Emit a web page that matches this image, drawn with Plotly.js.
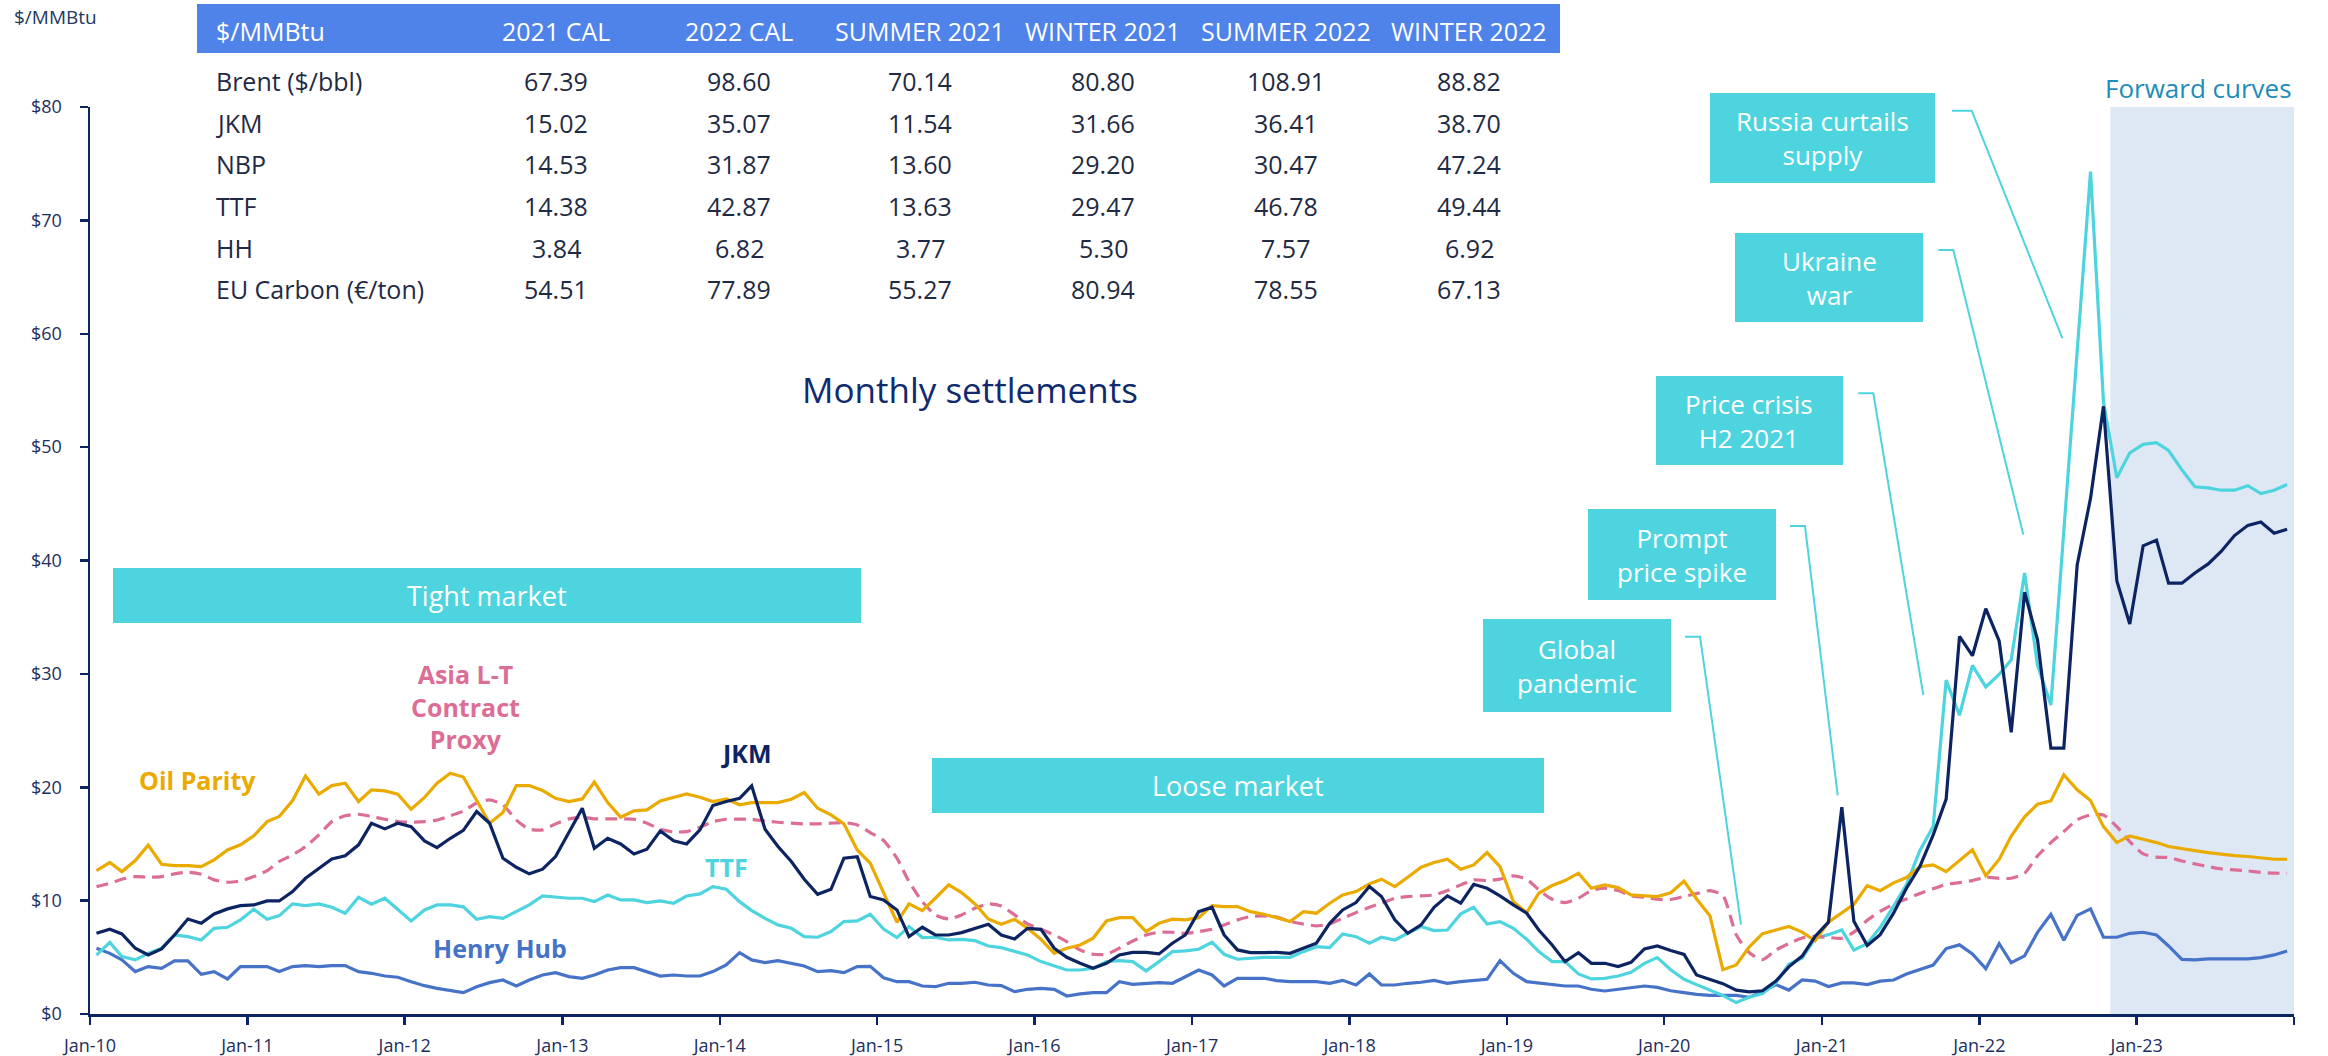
<!DOCTYPE html>
<html>
<head>
<meta charset="utf-8">
<script src="https://cdn.plot.ly/plotly-3.0.1.min.js"></script>
<style>
html,body{margin:0;padding:0;background:#ffffff;}
#chart{width:2328px;height:1056px;}
</style>
</head>
<body>
<div id="chart"></div>
<script>
// ---------------- DATA (monthly, Jan-10 ... Dec-23) ----------------
const firstYear = 2010;

const oilParity = [
12.65,13.36,12.56,13.53,14.89,13.21,13.09,13.09,13.00,13.60,14.47,14.92,
15.71,16.97,17.42,18.83,21.00,19.39,20.15,20.36,18.74,19.77,19.68,19.39,
18.06,19.10,20.36,21.24,20.90,18.90,16.83,17.77,20.15,20.15,19.71,19.03,
18.74,18.97,20.45,18.65,17.36,17.92,18.00,18.80,19.12,19.42,19.12,18.74,
18.97,18.45,18.65,18.65,18.65,18.94,19.54,18.15,17.56,16.77,14.47,13.30,
10.65,8.09,9.71,9.12,10.21,11.39,10.71,9.71,8.38,7.91,8.36,7.56,
6.59,5.35,5.80,6.09,6.68,8.21,8.50,8.50,7.27,8.00,8.36,8.30,
8.50,9.56,9.47,9.47,9.03,8.80,8.50,8.15,9.03,8.89,9.77,10.50,
10.80,11.47,11.89,11.24,12.06,12.94,13.36,13.65,12.77,13.15,14.24,13.00,
9.91,8.94,10.65,11.33,11.77,12.42,11.09,11.39,11.15,10.50,10.42,10.36,
10.70,11.73,10.15,8.67,3.91,4.32,5.90,7.09,7.41,7.72,7.22,6.46,
8.10,8.89,9.68,11.32,10.88,11.57,12.04,12.99,13.15,12.55,13.50,14.48,
12.20,13.63,15.70,17.40,18.50,18.80,21.10,19.77,18.83,16.53,15.12,15.71,
15.41,15.12,14.77,14.56,14.41,14.24,14.09,13.97,13.89,13.74,13.65,13.65
];

const asiaLTProxy = [
11.24,11.53,11.89,12.12,12.06,12.12,12.36,12.50,12.33,11.83,11.62,11.74,
12.12,12.65,13.45,14.03,14.77,15.80,16.97,17.48,17.62,17.42,17.18,16.97,
16.91,16.97,17.10,17.48,17.90,18.62,18.89,18.45,17.10,16.30,16.24,16.77,
17.21,17.36,17.21,17.21,17.21,17.18,16.83,16.30,16.06,16.09,16.48,16.97,
17.18,17.18,17.18,17.03,16.91,16.83,16.77,16.77,16.83,16.88,16.68,16.00,
15.30,13.74,11.68,9.91,8.74,8.38,8.74,9.33,9.71,9.53,8.74,7.94,
7.47,6.97,6.38,5.65,5.27,5.27,5.80,6.44,6.97,7.21,7.21,7.12,
7.27,7.47,7.86,8.30,8.59,8.65,8.55,8.15,7.94,7.77,7.94,8.44,
8.94,9.41,9.77,10.21,10.36,10.42,10.50,10.89,11.39,11.83,11.77,11.89,
12.18,11.89,10.95,10.12,9.83,10.21,10.89,11.09,10.89,10.42,10.30,10.12,
10.10,10.37,10.62,10.88,10.47,7.00,5.42,4.79,5.64,6.21,6.71,6.84,
6.75,6.68,7.22,8.26,9.05,9.68,10.15,10.62,11.05,11.43,11.59,11.77,
12.06,11.97,11.97,12.42,13.95,15.12,16.09,17.12,17.56,17.56,16.53,15.21,
14.12,13.83,13.80,13.50,13.24,13.00,12.80,12.71,12.62,12.50,12.42,12.42
];

const jkm = [
7.12,7.47,7.06,5.80,5.21,5.74,6.97,8.38,8.00,8.83,9.27,9.56,
9.62,9.97,9.97,10.80,11.97,12.86,13.68,13.95,14.92,16.83,16.33,16.83,
16.53,15.27,14.68,15.50,16.20,17.86,16.83,13.74,12.94,12.36,12.77,13.88,
15.95,18.15,14.62,15.50,15.00,14.12,14.53,16.15,15.27,15.00,16.24,18.39,
18.74,19.03,20.12,16.30,14.77,13.45,11.89,10.56,11.00,13.74,13.88,10.36,
10.06,9.18,6.82,7.65,6.97,6.97,7.18,7.56,7.91,6.97,6.62,7.56,
7.47,5.80,5.00,4.47,4.03,4.47,5.21,5.44,5.44,5.30,6.24,6.97,
9.03,9.41,6.97,5.65,5.41,5.41,5.44,5.35,5.80,6.24,8.00,9.18,
9.83,11.24,10.36,8.30,7.12,7.86,9.41,10.42,9.77,11.44,11.09,10.42,
9.62,8.89,7.41,6.09,4.62,5.41,4.47,4.47,4.18,4.56,5.74,6.00,
5.60,5.26,3.44,3.06,2.68,2.11,1.95,2.05,2.90,4.16,5.11,6.84,
8.10,18.25,8.17,6.05,7.00,8.89,11.10,13.00,15.80,18.95,33.30,31.60,
35.75,32.90,24.85,37.20,33.00,23.45,23.45,39.60,45.50,53.60,38.20,34.40,
41.30,41.80,38.00,38.00,38.90,39.70,40.80,42.20,43.10,43.40,42.40,42.75
];

const ttf = [
5.20,6.32,5.06,4.77,5.35,5.80,6.97,6.82,6.53,7.56,7.65,8.30,
9.24,8.36,8.68,9.71,9.56,9.71,9.41,8.89,10.30,9.68,10.21,9.18,
8.21,9.18,9.62,9.62,9.45,8.36,8.59,8.44,9.03,9.62,10.41,10.30,
10.21,10.21,9.91,10.50,10.06,10.06,9.83,9.97,9.77,10.41,10.59,11.24,
11.00,9.91,9.12,8.44,7.86,7.56,6.82,6.77,7.27,8.15,8.21,8.80,
7.50,6.74,7.71,6.74,6.77,6.53,6.59,6.47,6.00,5.85,5.56,5.21,
4.62,4.26,3.88,3.88,4.03,4.62,4.71,4.62,3.80,4.62,5.50,5.56,
5.71,6.33,5.27,4.83,4.91,5.00,5.00,5.00,5.50,5.94,5.85,7.06,
6.82,6.24,6.77,6.53,7.12,7.71,7.36,7.41,8.83,9.41,7.94,8.15,
7.56,6.59,5.50,4.62,4.62,3.53,3.09,3.15,3.35,3.68,4.47,4.97,
3.90,3.06,2.59,2.11,1.64,1.01,1.48,1.80,2.74,4.38,4.95,6.68,
7.00,7.41,5.64,6.21,7.63,9.52,11.41,14.41,16.55,29.45,26.35,30.75,
28.85,29.95,31.25,38.90,30.75,27.25,42.50,58.30,74.30,54.00,47.30,49.50,
50.25,50.40,49.70,48.00,46.50,46.40,46.20,46.20,46.60,45.90,46.20,46.70
];

const henryHub = [
5.80,5.35,4.77,3.74,4.18,4.03,4.68,4.68,3.50,3.74,3.09,4.18,
4.18,4.18,3.74,4.18,4.27,4.18,4.27,4.27,3.74,3.59,3.35,3.24,
2.85,2.50,2.26,2.03,1.88,2.41,2.77,3.00,2.47,3.00,3.44,3.65,
3.30,3.15,3.44,3.88,4.09,4.09,3.74,3.35,3.44,3.35,3.35,3.74,
4.32,5.41,4.77,4.53,4.71,4.47,4.24,3.74,3.82,3.65,4.18,4.20,
3.20,2.85,2.85,2.47,2.41,2.71,2.71,2.80,2.56,2.50,1.97,2.18,
2.26,2.18,1.59,1.77,1.88,1.88,2.85,2.62,2.71,2.77,2.71,3.30,
3.88,3.44,2.47,3.15,3.15,3.15,2.95,2.85,2.85,2.85,2.71,2.97,
2.56,3.53,2.56,2.56,2.71,2.80,2.97,2.71,2.85,2.97,3.06,4.71,
3.59,2.85,2.71,2.56,2.47,2.47,2.18,2.03,2.18,2.35,2.47,2.35,
2.05,1.89,1.73,1.64,1.64,1.64,1.48,1.95,2.59,2.11,3.00,2.90,
2.43,2.74,2.74,2.59,2.90,3.00,3.53,3.94,4.32,5.77,6.10,5.30,
4.00,6.20,4.52,5.13,7.20,8.80,6.50,8.70,9.27,6.77,6.77,7.12,
7.21,6.97,6.00,4.82,4.77,4.86,4.86,4.86,4.86,4.97,5.21,5.56
];

const xTickYears = [2010,2011,2012,2013,2014,2015,2016,2017,2018,2019,2020,2021,2022,2023,2024];
const xTickLabels = ['Jan-10','Jan-11','Jan-12','Jan-13','Jan-14','Jan-15','Jan-16','Jan-17','Jan-18','Jan-19','Jan-20','Jan-21','Jan-22','Jan-23',''];

const forwardStart = '2022-11-01';
const forwardEnd = '2024-01-01';

const tableHeader = ['2021 CAL','2022 CAL','SUMMER 2021','WINTER 2021','SUMMER 2022','WINTER 2022'];
const tableCorner = '$/MMBtu';
const tableRowLabels = ['Brent ($/bbl)','JKM','NBP','TTF','HH','EU Carbon (€/ton)'];
const tableValues = [
  [67.39, 98.60, 70.14, 80.80, 108.91, 88.82],
  [15.02, 35.07, 11.54, 31.66, 36.41, 38.70],
  [14.53, 31.87, 13.60, 29.20, 30.47, 47.24],
  [14.38, 42.87, 13.63, 29.47, 46.78, 49.44],
  [3.84, 6.82, 3.77, 5.30, 7.57, 6.92],
  [54.51, 77.89, 55.27, 80.94, 78.55, 67.13]
];

const eventLabels = ['Russia curtails<br>supply','Ukraine<br>war','Price crisis<br>H2 2021','Prompt<br>price spike','Global<br>pandemic'];
const marketLabels = ['Tight market','Loose market'];

// ---------------- LAYOUT HELPERS ----------------
const W = 2328, H = 1056;
const PL = 90, PR = 2294, PT = 107, PB = 1014;
const px = x => (x - PL) / (PR - PL);
const py = y => (PB - y) / (PB - PT);

// month dates (mid-month positions)
const dates = [];
for (let i = 0; i < oilParity.length; i++) {
  const y = firstYear + Math.floor(i / 12);
  const m = (i % 12) + 1;
  dates.push(y + '-' + String(m).padStart(2, '0') + '-16');
}

const FONT = '"Open Sans", "Noto Sans", sans-serif';
const C = {
  oil: '#EAAA00', pink: '#DC6E96', jkm: '#0D2463', ttf: '#4DD4DF', hh: '#4673C8',
  box: '#4DD4DF', header: '#4F83E9', shade: '#DEE8F5', axis: '#0D2463', text: '#1F2A44'
};

const traces = [
  {x: dates, y: henryHub, name: 'Henry Hub', mode: 'lines', line: {color: C.hh, width: 3.2}},
  {x: dates, y: ttf, name: 'TTF', mode: 'lines', line: {color: C.ttf, width: 3.2}},
  {x: dates, y: asiaLTProxy, name: 'Asia L-T Contract Proxy', mode: 'lines',
   line: {color: C.pink, width: 3.2, dash: '12px,7px', shape: 'spline', smoothing: 0.6}},
  {x: dates, y: oilParity, name: 'Oil Parity', mode: 'lines', line: {color: C.oil, width: 3.2}},
  {x: dates, y: jkm, name: 'JKM', mode: 'lines', line: {color: C.jkm, width: 3.2}}
];

const shapes = [];
const annotations = [];

// forward curve shading
shapes.push({type: 'rect', xref: 'x', yref: 'paper', x0: forwardStart, x1: forwardEnd, y0: 0, y1: 1,
  fillcolor: C.shade, line: {width: 0}, layer: 'below'});

function rectPx(x0, y0, x1, y1, color) {
  shapes.push({type: 'rect', xref: 'paper', yref: 'paper', x0: px(x0), x1: px(x1), y0: py(y1), y1: py(y0),
    fillcolor: color, line: {width: 0}, layer: 'above'});
}
function textPx(x, y, text, opts) {
  opts = opts || {};
  annotations.push({xref: 'paper', yref: 'paper', x: px(x), y: py(y), text: text, showarrow: false,
    xanchor: opts.xanchor || 'center', yanchor: 'middle', align: opts.align || 'center',
    font: {family: FONT, size: opts.size || 25, color: opts.color || C.text, weight: opts.weight || 'normal'}});
}
function leader(pts) {
  let d = '';
  pts.forEach((p, i) => { d += (i ? ' L ' : 'M ') + px(p[0]) + ',' + py(p[1]); });
  shapes.push({type: 'path', xref: 'paper', yref: 'paper', path: d, line: {color: C.box, width: 2}, layer: 'above'});
}

// ---------- table ----------
rectPx(197, 4, 1560, 53, C.header);
const colX = [556, 739, 920, 1103, 1286, 1469];
const rowY = [81, 122.5, 164, 206, 247.5, 289];
textPx(214, 31, tableCorner, {xanchor: 'left', color: '#ffffff', size: 25});
tableHeader.forEach((h, j) => textPx(colX[j], 31, h, {color: '#ffffff', size: 25}));
tableRowLabels.forEach((r, i) => {
  textPx(214, rowY[i], r, {xanchor: 'left', size: 25});
  tableValues[i].forEach((v, j) => textPx(colX[j], rowY[i], v.toFixed(2), {size: 25}));
});

// top-left unit label
textPx(12, 17.5, '$/MMBtu', {xanchor: 'left', size: 19, color: '#23395F'});

// Monthly settlements
textPx(970, 389, 'Monthly settlements', {size: 35, color: '#0F2B6E'});

// Forward curves
textPx(2294, 88, 'Forward curves', {xanchor: 'right', size: 26, color: '#1E8CBA'});

// market boxes
rectPx(113, 568, 861, 623, C.box);
textPx(487, 595.5, marketLabels[0], {size: 27, color: '#ffffff'});
rectPx(932, 758, 1544, 813, C.box);
textPx(1238, 785.5, marketLabels[1], {size: 27, color: '#ffffff'});

// event boxes
const evBoxes = [
  [1710, 93, 1935, 183],
  [1735, 233, 1923, 322],
  [1656, 376, 1843, 465],
  [1588, 509, 1776, 600],
  [1483, 619, 1671, 712]
];
evBoxes.forEach((b, i) => {
  rectPx(b[0], b[1], b[2], b[3], C.box);
  textPx((b[0] + b[2]) / 2, (b[1] + b[3]) / 2, eventLabels[i], {size: 26, color: '#ffffff'});
});
leader([[1952, 110.7], [1971.7, 110.7], [2062.3, 338.2]]);
leader([[1938.3, 250], [1953.3, 250], [2023.3, 534.6]]);
leader([[1858.3, 393.3], [1873.3, 393.3], [1923.3, 695]]);
leader([[1790, 526], [1805, 526], [1837.7, 795.4]]);
leader([[1685, 636.7], [1700, 636.7], [1741, 924.6]]);

// series labels
textPx(197, 780, 'Oil Parity', {size: 25, color: C.oil, weight: 'bold'});
textPx(465, 706, 'Asia L-T<br>Contract<br>Proxy', {size: 25, color: C.pink, weight: 'bold'});
textPx(746, 753, 'JKM', {size: 25, color: C.jkm, weight: 'bold'});
textPx(726, 867, 'TTF', {size: 25, color: C.ttf, weight: 'bold'});
textPx(500, 948, 'Henry Hub', {size: 25, color: C.hh, weight: 'bold'});

const layout = {
  width: W, height: H,
  margin: {l: PL, r: W - PR, t: PT, b: H - PB, pad: 0},
  paper_bgcolor: '#ffffff', plot_bgcolor: 'rgba(0,0,0,0)',
  showlegend: false,
  font: {family: FONT, color: '#1C2E5E'},
  xaxis: {
    type: 'date', range: [xTickYears[0] + '-01-01', xTickYears[xTickYears.length - 1] + '-01-01'],
    tickmode: 'array', tickvals: xTickYears.map(y => y + '-01-01'), ticktext: xTickLabels,
    ticks: 'outside', ticklen: 8, tickwidth: 2.5, tickcolor: C.axis,
    showline: true, linecolor: C.axis, linewidth: 2.5,
    showgrid: false, zeroline: false,
    tickfont: {family: FONT, size: 18, color: '#1C2E5E'}, ticklabelstandoff: 6
  },
  yaxis: {
    range: [0, 80], tickmode: 'linear', tick0: 0, dtick: 10, tickprefix: '$',
    ticks: 'outside', ticklen: 8, tickwidth: 2.5, tickcolor: C.axis,
    showline: true, linecolor: C.axis, linewidth: 2.5,
    showgrid: false, zeroline: false,
    tickfont: {family: FONT, size: 18, color: '#1C2E5E'}, ticklabelstandoff: 14
  },
  shapes: shapes,
  annotations: annotations
};

Plotly.newPlot('chart', traces, layout, {displayModeBar: false, staticPlot: true});
</script>
</body>
</html>
